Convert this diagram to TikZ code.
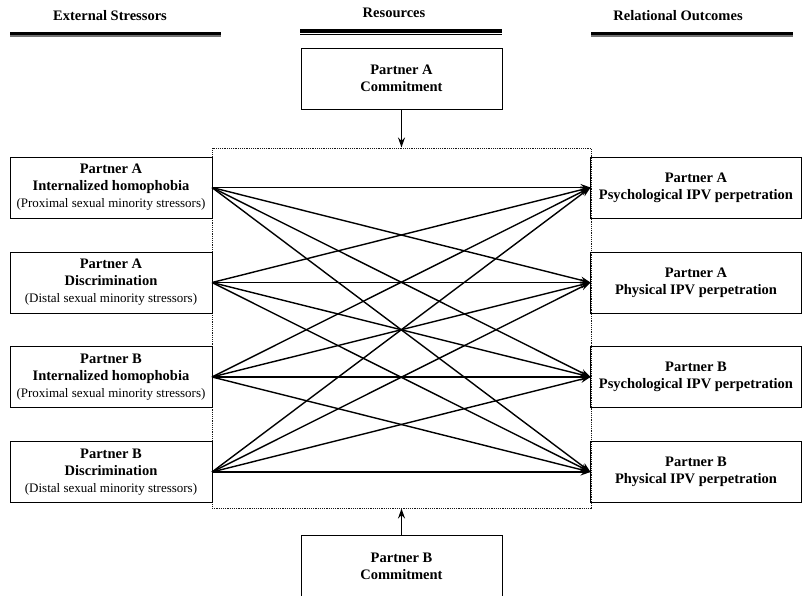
\documentclass[tikz,border=0pt]{standalone}
\usepackage{fontspec}
\setmainfont{Liberation Serif}
\usetikzlibrary{arrows.meta}

\begin{document}
\begin{tikzpicture}[x=1pt, y=-1pt,
  box/.style={draw, line width=1pt, align=center, inner sep=0pt, outer sep=0pt,
    minimum height=61pt, font=\fontsize{14.5}{17}\selectfont\bfseries},
  stressor/.style={box, minimum width=202pt},
  outcome/.style={box, minimum width=211pt},
  resource/.style={box, minimum width=201pt},
  head/.style={font=\fontsize{14.5}{17}\selectfont\bfseries},
  link/.style={line width=1.4pt, -{Stealth[length=10pt, width=7pt]}}]
\useasboundingbox (0,0) rectangle (803,595);
\fill[white] (0,0) rectangle (803,595);

% column headings
\node[head] (hs) at (110,16) {External Stressors};
\node[head] (hr) at (394,13) {Resources};
\node[head] (ho) at (678,16) {Relational Outcomes};
\draw[line width=3pt] (10,33.5) -- (221,33.5);
\draw[line width=2pt, black!55] (10,36) -- (221,36);
\draw[line width=4pt] (300,31) -- (502,31);
\draw[line width=1.2pt] (300,34.6) -- (502,34.6);
\draw[line width=3pt] (591,33.5) -- (793,33.5);
\draw[line width=2pt, black!55] (591,36) -- (793,36);

% dotted frame round the paths
\node[draw, line width=1pt, dash pattern=on 1.2pt off 1pt, black!90,
  minimum width=379pt, minimum height=360pt, inner sep=0pt] (frame) at (401.5,328) {};

% stressors
\node[stressor] (L1) at (111,187.5) {Partner A\\Internalized homophobia\\{\mdseries\fontsize{13}{17}\selectfont(Proximal sexual minority stressors)}};
\node[stressor] (L2) at (111,282.5) {Partner A\\Discrimination\\{\mdseries\fontsize{13}{17}\selectfont(Distal sexual minority stressors)}};
\node[stressor] (L3) at (111,377) {Partner B\\Internalized homophobia\\{\mdseries\fontsize{13}{17}\selectfont(Proximal sexual minority stressors)}};
\node[stressor] (L4) at (111,472) {Partner B\\Discrimination\\{\mdseries\fontsize{13}{17}\selectfont(Distal sexual minority stressors)}};

% outcomes
\node[outcome] (R1) at (696,187.5) {Partner A\\Psychological IPV perpetration};
\node[outcome] (R2) at (696,282.5) {Partner A\\Physical IPV perpetration};
\node[outcome] (R3) at (696,377) {Partner B\\Psychological IPV perpetration};
\node[outcome] (R4) at (696,472) {Partner B\\Physical IPV perpetration};

% resources
\node[resource] (CA) at (401.5,78.5) {Partner A\\Commitment};
\node[resource] (CB) at (401.5,566) {Partner B\\Commitment};

\foreach \i in {1,...,4}
  \foreach \j in {1,...,4}
    \draw[link] (L\i.east) -- (R\j.west);

\draw[link] (CA.south) -- (frame.north);
\draw[link] (CB.north) -- (frame.south);
\end{tikzpicture}
\end{document}
